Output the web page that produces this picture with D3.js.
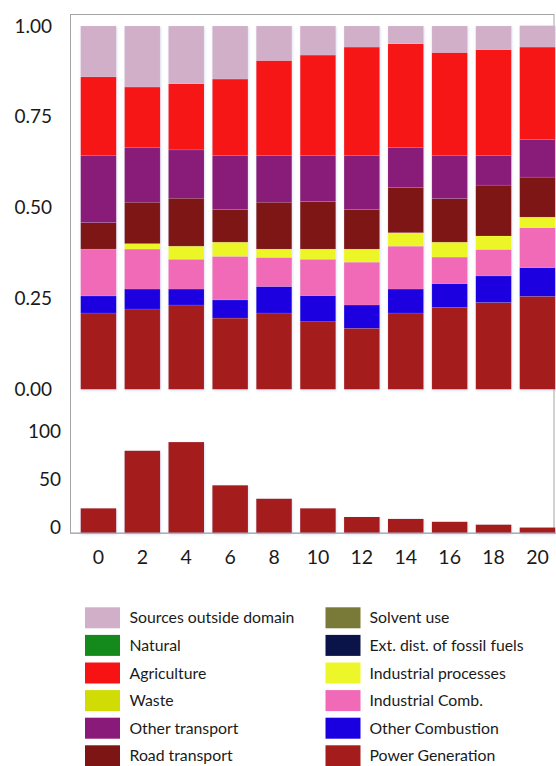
<!DOCTYPE html>
<html>
<head>
<meta charset="utf-8">
<script src="https://cdn.jsdelivr.net/npm/d3@7"></script>
<style>
  html, body { margin: 0; padding: 0; background: #fff; }
  svg { display: block; font-family: Lato, "Open Sans", sans-serif; }
</style>
</head>
<body>
<svg id="chart" width="556" height="766"></svg>
<script>
// ---- data ----
const categories = ["0", "2", "4", "6", "8", "10", "12", "14", "16", "18", "20"];

// contributions (fractions), stacked bottom -> top
const powerGeneration     = [0.210, 0.221, 0.232, 0.196, 0.210, 0.186, 0.168, 0.210, 0.226, 0.239, 0.256];
const otherCombustion     = [0.047, 0.055, 0.044, 0.050, 0.073, 0.072, 0.064, 0.066, 0.065, 0.073, 0.079];
const industrialComb      = [0.129, 0.110, 0.082, 0.120, 0.080, 0.100, 0.118, 0.118, 0.073, 0.073, 0.110];
const industrialProcesses = [0.000, 0.015, 0.036, 0.039, 0.023, 0.028, 0.036, 0.037, 0.041, 0.037, 0.029];
const extDistFossilFuels  = [0, 0, 0, 0, 0, 0, 0, 0, 0, 0, 0];
const solventUse          = [0, 0, 0, 0, 0, 0, 0, 0, 0, 0, 0];
const roadTransport       = [0.073, 0.114, 0.132, 0.090, 0.129, 0.131, 0.109, 0.125, 0.120, 0.140, 0.110];
const otherTransport      = [0.184, 0.150, 0.133, 0.149, 0.129, 0.127, 0.149, 0.110, 0.118, 0.082, 0.104];
const waste               = [0, 0, 0, 0, 0, 0, 0, 0, 0, 0, 0];
const agriculture         = [0.217, 0.167, 0.182, 0.210, 0.261, 0.276, 0.298, 0.285, 0.284, 0.291, 0.254];
const natural             = [0, 0, 0, 0, 0, 0, 0, 0, 0, 0, 0];
const sourcesOutside      = [0.140, 0.168, 0.159, 0.146, 0.095, 0.080, 0.058, 0.049, 0.073, 0.065, 0.059];

// lower panel values
const totalValues = [26, 86, 95, 50, 36, 26, 17, 15, 12, 9, 6];

const topTicks = [0, 0.25, 0.5, 0.75, 1];
const bottomTicks = [0, 50, 100];

// legend (left column then right column)
const legendLeft  = ["Sources outside domain", "Natural", "Agriculture", "Waste", "Other transport", "Road transport"];
const legendRight = ["Solvent use", "Ext. dist. of fossil fuels", "Industrial processes", "Industrial Comb.", "Other Combustion", "Power Generation"];

// ---- series table ----
const seriesKeys = ["Power Generation", "Other Combustion", "Industrial Comb.", "Industrial processes",
  "Ext. dist. of fossil fuels", "Solvent use", "Road transport", "Other transport", "Waste",
  "Agriculture", "Natural", "Sources outside domain"];
const seriesArrays = [powerGeneration, otherCombustion, industrialComb, industrialProcesses,
  extDistFossilFuels, solventUse, roadTransport, otherTransport, waste, agriculture, natural, sourcesOutside];

const colors = {
  "Sources outside domain": "#d1afc8",
  "Natural": "#148a1c",
  "Agriculture": "#f71214",
  "Waste": "#d0dc04",
  "Other transport": "#891a79",
  "Road transport": "#7e1515",
  "Solvent use": "#7a7a38",
  "Ext. dist. of fossil fuels": "#0b1448",
  "Industrial processes": "#ecf628",
  "Industrial Comb.": "#f06ab8",
  "Other Combustion": "#1a00e0",
  "Power Generation": "#a51c1c"
};

const table = categories.map((c, i) => {
  const row = { cat: c };
  seriesKeys.forEach((k, j) => row[k] = seriesArrays[j][i]);
  return row;
});

// ---- drawing ----
const svg = d3.select("#chart");

const defs = svg.append("defs");
const f = defs.append("filter").attr("id", "shadow")
  .attr("x", "-10%").attr("y", "-10%").attr("width", "130%").attr("height", "130%");
f.append("feDropShadow").attr("dx", 0.6).attr("dy", 1.2).attr("stdDeviation", 1.2)
  .attr("flood-color", "#7f9ad8").attr("flood-opacity", 0.35);

const x = d3.scaleBand().domain(categories).range([76.5, 559.4])
  .paddingInner(0.19).paddingOuter(0.095);

const yTop = d3.scaleLinear().domain([0, 1]).range([389.3, 26]);
const yBot = d3.scaleLinear().domain([0, 100]).range([533.3, 437.3]);

// frame
svg.append("rect").attr("x", 70.5).attr("y", 14.5).attr("width", 483.5).attr("height", 518.8)
  .attr("fill", "none").attr("stroke", "#a4a4a4").attr("stroke-width", 1);

// stacked bars
const stack = d3.stack().keys(seriesKeys);
const stacked = stack(table);

const barsG = svg.append("g").attr("filter", "url(#shadow)");
barsG.selectAll("g.series").data(stacked).join("g")
  .attr("class", "series")
  .attr("fill", d => colors[d.key])
  .selectAll("rect").data(d => d).join("rect")
  .attr("x", d => x(d.data.cat))
  .attr("width", x.bandwidth())
  .attr("y", d => yTop(d[1]))
  .attr("height", d => Math.max(0, yTop(d[0]) - yTop(d[1])))
  .attr("stroke", "rgba(255,255,255,0.18)")
  .attr("stroke-width", 0.6);

// lower bars
svg.append("g").attr("filter", "url(#shadow)")
  .selectAll("rect").data(totalValues).join("rect")
  .attr("x", (d, i) => x(categories[i]))
  .attr("width", x.bandwidth())
  .attr("y", d => yBot(d))
  .attr("height", d => yBot(0) - yBot(d))
  .attr("fill", colors["Power Generation"]);

// bottom axis line
svg.append("line").attr("x1", 70).attr("x2", 556).attr("y1", 533.3).attr("y2", 533.3)
  .attr("stroke", "#a9afbb").attr("stroke-width", 1.5);

// axes
const textColor = "#1a1a1a";

const axTop = svg.append("g").attr("transform", "translate(70,0)")
  .call(d3.axisLeft(yTop).tickValues(topTicks).tickFormat(d3.format(".2f")).tickSize(0).tickPadding(18));
axTop.select(".domain").remove();
axTop.selectAll("text").attr("fill", textColor).style("font-size", "19px").style("font-family", "Lato, sans-serif");

const axBot = svg.append("g").attr("transform", "translate(70,0)")
  .call(d3.axisLeft(yBot).tickValues(bottomTicks).tickFormat(d3.format("d")).tickSize(0).tickPadding(9));
axBot.select(".domain").remove();
axBot.selectAll("text").attr("fill", textColor).attr("y", -5.5)
  .style("font-size", "19px").style("font-family", "Lato, sans-serif");

const axX = svg.append("g").attr("transform", "translate(0,533.3)")
  .call(d3.axisBottom(x).tickSize(0).tickPadding(17));
axX.select(".domain").remove();
axX.selectAll("text").attr("fill", textColor)
  .style("font-size", "19.5px").style("font-family", "Lato, sans-serif");

// legend
const legendRowY = d3.scalePoint().domain(d3.range(6)).range([607.3, 745.3]);
function drawLegend(items, sx, tx) {
  const g = svg.append("g");
  items.forEach((name, i) => {
    g.append("rect").attr("x", sx).attr("y", legendRowY(i)).attr("width", 35).attr("height", 21)
      .attr("fill", colors[name]);
    g.append("text").attr("x", tx).attr("y", legendRowY(i) + 10.5).attr("dy", "0.35em")
      .attr("fill", textColor).style("font-size", "15.8px").text(name);
  });
}
drawLegend(legendLeft, 85, 129.5);
drawLegend(legendRight, 325.5, 369.5);
</script>
</body>
</html>
